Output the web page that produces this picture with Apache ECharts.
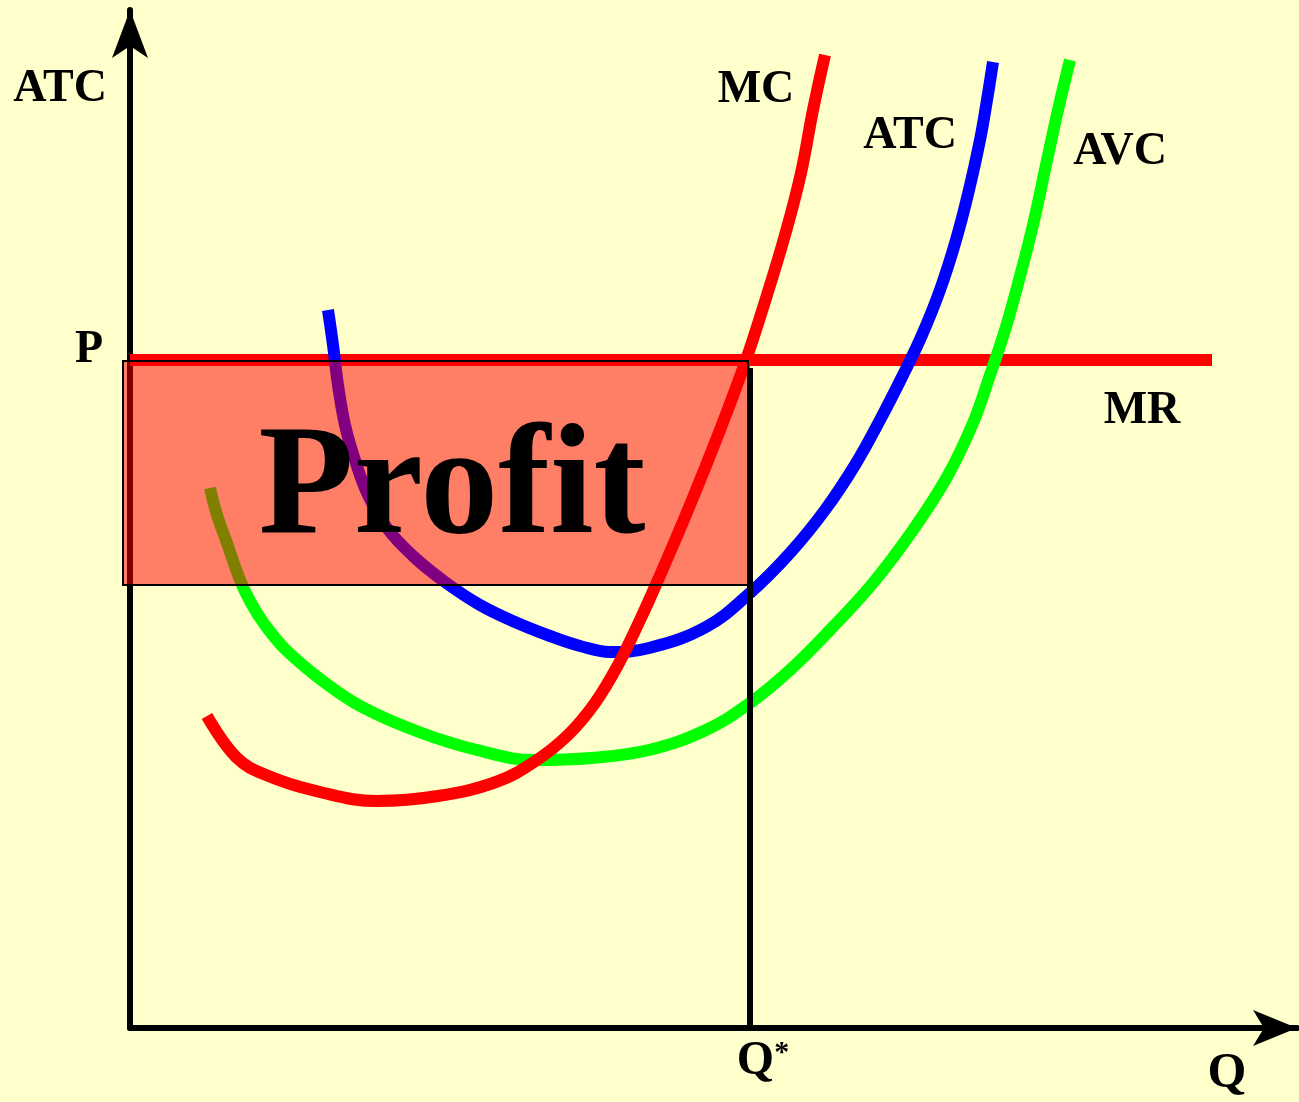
<!DOCTYPE html>
<html>
<head>
<meta charset="utf-8">
<script src="https://cdn.jsdelivr.net/npm/echarts@6/dist/echarts.min.js"></script>
<style>
  html, body { margin: 0; padding: 0; background: #FFFFCC; }
  #main { width: 1299px; height: 1102px; }
</style>
</head>
<body>
<div id="main"></div>
<script>
// 价格 P 与利润最大化产量 Q*
const priceP = 66.8;
const qStar = 62.0;
const qLineTop = 66.0;
const mrEnd = 108.2;
// 利润矩形: [左, 右] 与 [下, 上]
const profitQ = [-0.7, 61.8];
const profitC = [44.3, 66.7];

// 曲线数据 [Q, 成本]
const mcData = [
  [7.7, 31.2], [10.6, 27.1], [13.6, 25.3], [19.4, 23.5], [24.7, 22.7], [30.8, 23.2],
  [36.6, 24.6], [40.4, 26.6], [43.8, 29.3], [46.5, 32.5], [48.8, 36.3], [51.0, 40.8],
  [52.8, 44.8], [56.0, 52.3], [59.0, 59.8], [61.6, 66.8], [63.7, 73.3], [65.5, 79.3],
  [67.1, 85.5], [68.3, 91.8], [69.5, 97.3]
];
const atcData = [
  [19.8, 71.8], [20.3, 68.3], [20.8, 64.3], [21.5, 60.3], [22.5, 56.8], [23.8, 53.3],
  [25.7, 50.0], [28.3, 47.2], [31.5, 44.6], [35.0, 42.3], [38.5, 40.6], [42.0, 39.2],
  [45.0, 38.2], [48.0, 37.6], [51.9, 38.0], [57.6, 40.1], [62.0, 43.5], [66.0, 47.5],
  [69.5, 51.8], [72.5, 56.3], [75.0, 60.8], [77.3, 65.3], [79.2, 69.3], [81.0, 73.8],
  [82.6, 78.8], [83.9, 83.8], [85.0, 88.8], [85.7, 92.8], [86.3, 96.6]
];
const avcData = [
  [8.0, 54.0], [8.7, 51.3], [9.7, 48.5], [11.0, 44.8], [12.1, 42.5], [13.5, 40.3],
  [15.6, 37.8], [19.4, 34.6], [23.2, 32.1], [28.9, 29.6], [34.7, 27.8], [40.4, 26.8],
  [46.1, 27.0], [51.9, 27.8], [57.6, 29.8], [62.0, 32.5], [66.0, 35.8], [70.0, 39.8],
  [74.3, 44.5], [78.3, 49.8], [81.7, 55.1], [84.3, 60.5], [86.0, 65.3], [87.5, 69.8],
  [88.9, 74.8], [90.3, 80.3], [91.6, 86.3], [92.8, 91.8], [94.0, 96.8]
];

// 文字标注
const labelNames = ['ATC', 'MC', 'ATC', 'AVC', 'MR', 'Q', 'Profit'];
const labelPos = [[-7.0, 93.9], [62.6, 93.8], [78.0, 89.2], [99.0, 87.6], [101.2, 61.7], [109.7, -4.6], [32.2, 53.6]];

const serif = "'Liberation Serif', 'Times New Roman', serif";

const chartInstance = echarts.init(document.getElementById('main'));

const initOption = {
  backgroundColor: '#FFFFCC',
  animation: false,
  grid: { left: 130, right: 2, top: 10, bottom: 74 },
  xAxis: {
    type: 'value',
    min: 0,
    max: 116.7,
    splitLine: { show: false },
    axisTick: { show: false },
    axisLine: {
      lineStyle: { color: '#000', width: 6 },
      symbol: ['none', 'arrow'],
      symbolSize: [27, 44]
    },
    axisLabel: {
      customValues: [qStar],
      margin: 10,
      padding: [0, 0, 0, 26],
      formatter: () => '{q|Q}{s|*}',
      rich: {
        q: { fontFamily: serif, fontWeight: 'bold', fontSize: 48, color: '#000' },
        s: { fontFamily: serif, fontWeight: 'bold', fontSize: 30, color: '#000', verticalAlign: 'top' }
      }
    }
  },
  yAxis: {
    type: 'value',
    min: 0,
    max: 101.8,
    splitLine: { show: false },
    axisTick: { show: false },
    axisLine: {
      lineStyle: { color: '#000', width: 6 },
      symbol: ['none', 'arrow'],
      symbolSize: [27, 48]
    },
    axisLabel: {
      customValues: [priceP],
      margin: 27,
      verticalAlign: 'bottom',
      lineHeight: 20,
      formatter: () => 'P',
      fontFamily: serif,
      fontWeight: 'bold',
      fontSize: 46,
      color: '#000'
    }
  },
  series: [
    {
      // MR = P
      type: 'line', z: 2, silent: true, symbol: 'none',
      lineStyle: { color: '#FF0000', width: 12 },
      data: [[0, priceP], [mrEnd, priceP]]
    },
    {
      type: 'line', z: 3, silent: true, symbol: 'none', smooth: 0.4,
      lineStyle: { color: '#00FF00', width: 12 },
      data: avcData
    },
    {
      type: 'line', z: 3, silent: true, symbol: 'none', smooth: 0.4,
      lineStyle: { color: '#0000FF', width: 12 },
      data: atcData
    },
    {
      type: 'line', z: 3, silent: true, symbol: 'none', smooth: 0.4,
      lineStyle: { color: '#FF0000', width: 12 },
      data: mcData
    },
    {
      // Q* 竖线
      type: 'line', z: 6, silent: true, symbol: 'none',
      lineStyle: { color: '#000', width: 6 },
      data: [[qStar, 0], [qStar, qLineTop]]
    },
    {
      // 利润矩形
      type: 'custom', z: 5, silent: true, clip: false,
      data: [[profitQ[0], profitC[0], profitQ[1], profitC[1]]],
      renderItem: (params, api) => {
        const p0 = api.coord([api.value(0), api.value(3)]);
        const p1 = api.coord([api.value(2), api.value(1)]);
        return {
          type: 'rect',
          shape: { x: p0[0], y: p0[1], width: p1[0] - p0[0], height: p1[1] - p0[1] },
          style: { fill: 'rgba(255,0,0,0.5)', stroke: '#000', lineWidth: 2 }
        };
      }
    },
    {
      type: 'scatter', z: 8, silent: true, clip: false, symbolSize: 0,
      itemStyle: { opacity: 1 },
      label: {
        show: true,
        position: 'inside',
        formatter: '{b}',
        fontFamily: serif,
        fontWeight: 'bold',
        fontSize: 46,
        color: '#000',
        opacity: 1
      },
      data: labelNames.map((n, i) => ({
        name: n,
        value: labelPos[i],
        label: n === 'Profit' ? { fontSize: 156 } : (n === 'Q' ? { fontSize: 50 } : {})
      }))
    }
  ]
};

chartInstance.setOption(initOption);
</script>
</body>
</html>
